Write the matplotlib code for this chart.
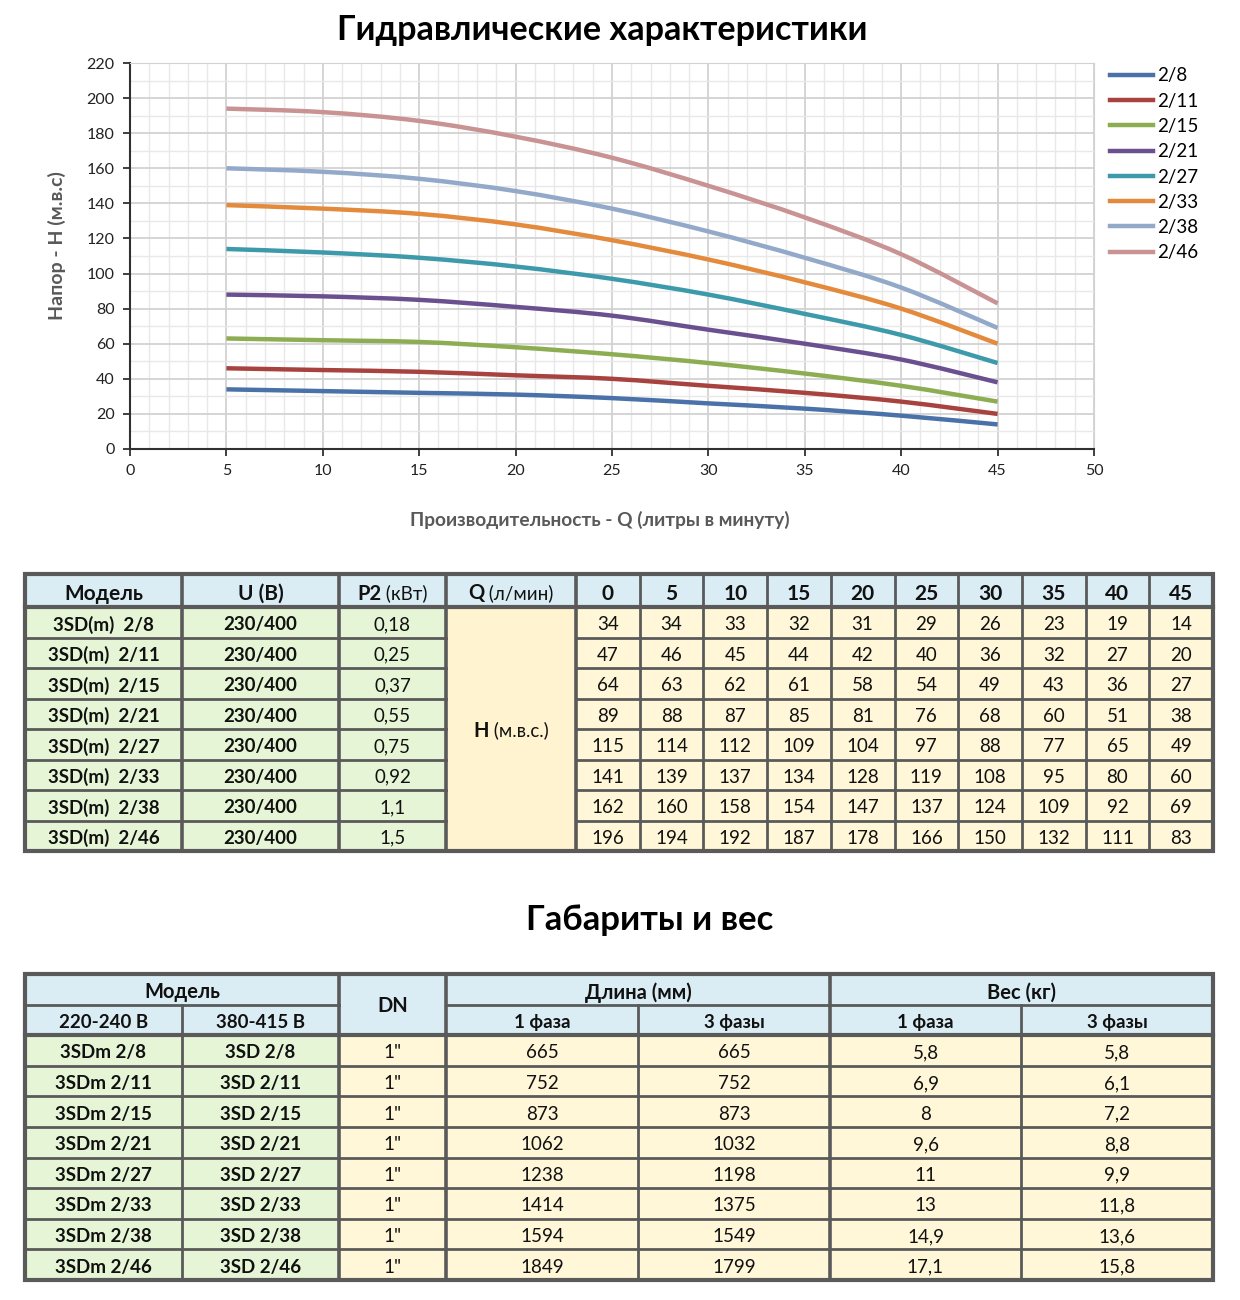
import numpy as np
import matplotlib
matplotlib.use("Agg")
import matplotlib.pyplot as plt
from matplotlib.patches import Rectangle, PathPatch
from matplotlib.path import Path
from matplotlib.lines import Line2D
from matplotlib.ticker import MultipleLocator

plt.rcParams['font.family'] = ['Lato', 'DejaVu Sans']

# ---- data ----
models = ["2/8", "2/11", "2/15", "2/21", "2/27", "2/33", "2/38", "2/46"]
q_flow = [0, 5, 10, 15, 20, 25, 30, 35, 40, 45]
head_2_8 = [34, 34, 33, 32, 31, 29, 26, 23, 19, 14]
head_2_11 = [47, 46, 45, 44, 42, 40, 36, 32, 27, 20]
head_2_15 = [64, 63, 62, 61, 58, 54, 49, 43, 36, 27]
head_2_21 = [89, 88, 87, 85, 81, 76, 68, 60, 51, 38]
head_2_27 = [115, 114, 112, 109, 104, 97, 88, 77, 65, 49]
head_2_33 = [141, 139, 137, 134, 128, 119, 108, 95, 80, 60]
head_2_38 = [162, 160, 158, 154, 147, 137, 124, 109, 92, 69]
head_2_46 = [196, 194, 192, 187, 178, 166, 150, 132, 111, 83]
heads = [head_2_8, head_2_11, head_2_15, head_2_21,
         head_2_27, head_2_33, head_2_38, head_2_46]
voltage = ["230/400"] * 8
power_p2 = ["0,18", "0,25", "0,37", "0,55", "0,75", "0,92", "1,1", "1,5"]

model_1ph = ["3SDm " + m for m in models]
model_3ph = ["3SD " + m for m in models]
dn_size = ['1"'] * 8
length_1ph = [665, 752, 873, 1062, 1238, 1414, 1594, 1849]
length_3ph = [665, 752, 873, 1032, 1198, 1375, 1549, 1799]
weight_1ph = ["5,8", "6,9", "8", "9,6", "11", "13", "14,9", "17,1"]
weight_3ph = ["5,8", "6,1", "7,2", "8,8", "9,9", "11,8", "13,6", "15,8"]

# ---- styles ----
line_colors = ["#4a72a8", "#a8423e", "#8cad52", "#6b5090", "#3d9aaa",
               "#e38a3c", "#93a9c9", "#c99293"]
BLUE = "#daedf4"
GREEN = "#e5f5d6"
YELLOW = "#fff7d8"
YELLOW_Q = "#fff4cf"
BORDER = "#5a5a5a"
GRAY_TXT = "#595959"

W, H = 1240, 1300
fig = plt.figure(figsize=(W / 100, H / 100), dpi=100)


def smooth_path(xs, ys):
    # Excel-like smoothed line: cubic Bezier segments through the points
    pts = np.column_stack([xs, ys]).astype(float)
    verts = [pts[0]]
    codes = [Path.MOVETO]
    n = len(pts)
    for i in range(n - 1):
        p0 = pts[max(i - 1, 0)]
        p1, p2 = pts[i], pts[i + 1]
        p3 = pts[min(i + 2, n - 1)]
        c1 = p1 + (p2 - p0) / 6
        c2 = p2 - (p3 - p1) / 6
        verts += [c1, c2, p2]
        codes += [Path.CURVE4] * 3
    return Path(verts, codes)


# ---- chart ----
ax = fig.add_axes([130 / W, 1 - 449 / H, 964 / W, 386 / H])
handles = []
for name, h, c in zip(models, heads, line_colors):
    ax.add_patch(PathPatch(smooth_path(q_flow[1:], h[1:]), facecolor="none",
                           edgecolor=c, lw=3.2, capstyle="butt", zorder=3))
    handles.append(Line2D([], [], color=c, lw=3.2, label=name))
ax.set_xlim(0, 50)
ax.set_ylim(0, 220)
ax.xaxis.set_major_locator(MultipleLocator(5))
ax.xaxis.set_minor_locator(MultipleLocator(1))
ax.yaxis.set_major_locator(MultipleLocator(20))
ax.yaxis.set_minor_locator(MultipleLocator(10))
ax.grid(which="major", color="#d2d2d2", lw=1.3)
ax.grid(which="minor", color="#e8e8e8", lw=1.0)
ax.set_axisbelow(True)
ax.tick_params(which="minor", length=0)
ax.tick_params(which="major", length=5, width=1.3, color="#303030",
               labelsize=11.5, pad=6, labelcolor="#222222")
for s in ["top", "right"]:
    ax.spines[s].set_color("#d2d2d2")
for s in ["left", "bottom"]:
    ax.spines[s].set_color("#303030")
    ax.spines[s].set_linewidth(1.5)

fig.legend(handles=handles, loc="upper left",
           bbox_to_anchor=(1102 / W, 1 - 60 / H),
           frameon=False, fontsize=13.5, handlelength=2.3, handletextpad=0.25,
           labelspacing=0.44, borderaxespad=0)

fig.text(602 / W, 1 - 30 / H, "Гидравлические характеристики",
         ha="center", va="center", fontsize=24.6, weight="bold")
fig.text(57 / W, 1 - 246 / H, "Напор - H (м.в.с)", rotation=90,
         ha="center", va="center", fontsize=14, weight="bold", color=GRAY_TXT)
fig.text(600 / W, 1 - 520 / H, "Производительность - Q (литры в минуту)",
         ha="center", va="center", fontsize=13.8, weight="bold", color=GRAY_TXT)
fig.text(650 / W, 1 - 920 / H, "Габариты и вес",
         ha="center", va="center", fontsize=24.9, weight="bold")

# ---- tables (pixel coordinates) ----
tax = fig.add_axes([0, 0, 1, 1])
tax.set_xlim(0, W)
tax.set_ylim(H, 0)
tax.axis("off")
tax.patch.set_visible(False)
renderer = fig.canvas.get_renderer()


def fill(x0, x1, y0, y1, color):
    tax.add_patch(Rectangle((x0, y0), x1 - x0, y1 - y0,
                            facecolor=color, edgecolor="none", zorder=1))


def hline(y, x0, x1, lw=2.0):
    tax.plot([x0, x1], [y, y], color=BORDER, lw=lw, zorder=3,
             solid_capstyle="projecting")


def vline(x, y0, y1, lw=2.0):
    tax.plot([x, x], [y0, y1], color=BORDER, lw=lw, zorder=3,
             solid_capstyle="projecting")


def label(x, y, s, bold=False, size=13.5):
    tax.text(x, y, s, ha="center", va="center_baseline", fontsize=size,
             weight="bold" if bold else "normal", color="#111111", zorder=4)


def mixed(x, y, bold_part, normal_part, size=13.5):
    t1 = tax.text(0, y, bold_part, va="center_baseline", fontsize=size,
                  weight="bold", color="#111111", zorder=4)
    t2 = tax.text(0, y, normal_part, va="center_baseline", fontsize=size - 1,
                  color="#111111", zorder=4)
    w1 = t1.get_window_extent(renderer).width
    w2 = t2.get_window_extent(renderer).width
    x0 = x - (w1 + w2) / 2
    t1.set_x(x0)
    t2.set_x(x0 + w1)


# table 1
t1_cols = [25, 182, 339, 446, 576] + list(np.linspace(576, 1213, 11)[1:])
t1_top, t1_head, t1_bot = 574, 607, 851
rh1 = (t1_bot - t1_head) / len(models)

fill(25, 1213, t1_top, t1_head, BLUE)
fill(25, 446, t1_head, t1_bot, GREEN)
fill(446, 576, t1_head, t1_bot, YELLOW_Q)
fill(576, 1213, t1_head, t1_bot, YELLOW)

hy = (t1_top + t1_head) / 2 + 1
label((25 + 182) / 2, hy, "Модель", bold=True, size=15)
label((182 + 339) / 2, hy, "U (В)", bold=True, size=15)
mixed((339 + 446) / 2, hy, "P2", " (кВт)", size=14.5)
mixed((446 + 576) / 2, hy, "Q", " (л/мин)", size=14.5)
for j, q in enumerate(q_flow):
    label((t1_cols[4 + j] + t1_cols[5 + j]) / 2, hy, str(q), bold=True, size=15)

for i, name in enumerate(models):
    yc = t1_head + rh1 * (i + 0.5) + 1
    label((25 + 182) / 2, yc, "3SD(m)  " + name, bold=True)
    label((182 + 339) / 2, yc, voltage[i], bold=True)
    label((339 + 446) / 2, yc, power_p2[i])
    for j in range(len(q_flow)):
        label((t1_cols[4 + j] + t1_cols[5 + j]) / 2, yc, str(heads[i][j]))
    if i > 0:
        y = t1_head + rh1 * i
        hline(y, 25, 446)
        hline(y, 576, 1213)
mixed((446 + 576) / 2, (t1_head + t1_bot) / 2, "H", " (м.в.с.)", size=14.5)

for x in t1_cols[1:-1]:
    vline(x, t1_top, t1_bot, lw=2.6 if x <= 576 else 2.0)
hline(t1_head, 25, 1213, lw=3)
tax.add_patch(Rectangle((25, t1_top), 1213 - 25, t1_bot - t1_top,
                        facecolor="none", edgecolor=BORDER, lw=3, zorder=5))

# table 2
t2_cols = [25, 182, 339, 446, 638, 830, 1021, 1213]
t2_top, t2_mid, t2_head, t2_bot = 974, 1005, 1035, 1280
rh2 = (t2_bot - t2_head) / len(models)

fill(25, 1213, t2_top, t2_head, BLUE)
fill(25, 339, t2_head, t2_bot, GREEN)
fill(339, 1213, t2_head, t2_bot, YELLOW)

y1 = (t2_top + t2_mid) / 2 + 1
y2 = (t2_mid + t2_head) / 2 + 1
label((25 + 339) / 2, y1, "Модель", bold=True, size=14.5)
label((339 + 446) / 2, (t2_top + t2_head) / 2, "DN", bold=True, size=14.5)
label((446 + 830) / 2, y1, "Длина (мм)", bold=True, size=14.5)
label((830 + 1213) / 2, y1, "Вес (кг)", bold=True, size=14.5)
sub_heads = ["220-240 В", "380-415 В", None, "1 фаза", "3 фазы", "1 фаза", "3 фазы"]
for j, s in enumerate(sub_heads):
    if s:
        label((t2_cols[j] + t2_cols[j + 1]) / 2, y2, s, bold=True, size=13.5)

cols2 = [model_1ph, model_3ph, dn_size, length_1ph, length_3ph, weight_1ph, weight_3ph]
for i in range(len(models)):
    yc = t2_head + rh2 * (i + 0.5) + 1
    for j, col in enumerate(cols2):
        label((t2_cols[j] + t2_cols[j + 1]) / 2, yc, str(col[i]), bold=(j < 2))
    if i > 0:
        hline(t2_head + rh2 * i, 25, 1213)

hline(t2_mid, 25, 339)
hline(t2_mid, 446, 1213)
for x in [182, 638, 1021]:
    vline(x, t2_mid, t2_bot)
for x in [339, 446, 830]:
    vline(x, t2_top, t2_bot, lw=2.6)
hline(t2_head, 25, 1213, lw=3)
tax.add_patch(Rectangle((25, t2_top), 1213 - 25, t2_bot - t2_top,
                        facecolor="none", edgecolor=BORDER, lw=3, zorder=5))

fig.savefig("out.png", dpi=100)
